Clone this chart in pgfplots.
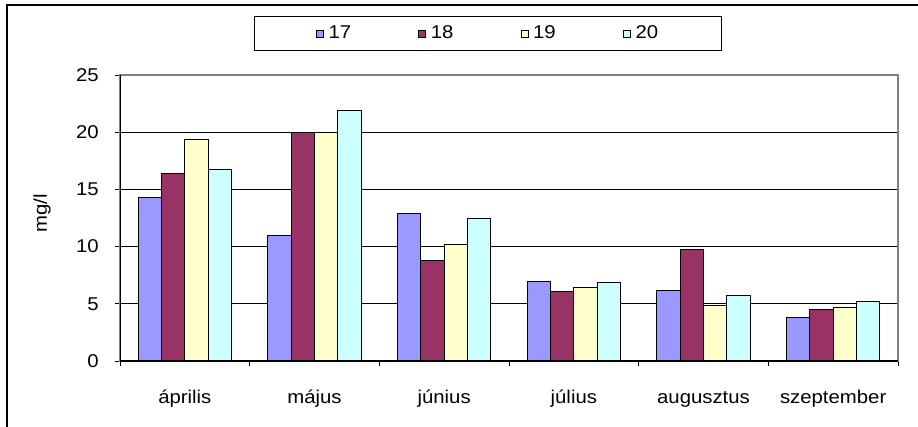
\documentclass[border=0pt]{standalone}
\usepackage{fontspec}
\setmainfont{Liberation Sans}[FakeStretch=1.1]
\usepackage{pgfplots}
\pgfplotsset{compat=1.18}
\definecolor{c17}{HTML}{9999FF}
\definecolor{c18}{HTML}{993366}
\definecolor{c19}{HTML}{FFFFCC}
\definecolor{c20}{HTML}{CCFFFF}
\begin{document}
\fontsize{18.5pt}{22pt}\selectfont
\begin{tikzpicture}
\path[use as bounding box] (0,0) rectangle (918pt,426pt);
\draw[line width=1.5pt] (7pt,-5pt) -- (7pt,421pt) -- (925pt,421pt);
\begin{axis}[
 at={(120pt,65pt)}, anchor=south west,
 scale only axis, width=778pt, height=286pt,
 ybar=0pt, bar width=23.3pt,
 xmin=-0.5, xmax=5.5, ymin=0, ymax=25,
 xtick={0,...,5}, xticklabels={április,május,június,július,augusztus,szeptember},
 major x tick style={draw=none},
 minor xtick={-0.5,0.5,...,5.5},
 ytick={0,5,...,25},
 xtick pos=bottom, ytick pos=left,
 tick align=outside, major tick length=5pt, minor tick length=5pt,
 ymajorgrids, grid style={black, line width=0.9pt},
 axis line style={draw=gray, line width=1.2pt},
 tick style={black, line width=0.9pt},
 /pgf/number format/assume math mode=true,
 yticklabel style={anchor=east, inner sep=0pt, xshift=-16pt},
 xticklabel style={anchor=base, inner sep=0pt, yshift=-37pt},
 ylabel={mg/l},
 ylabel style={at={(axis description cs:-0.1003,0.517)}, anchor=center},
 legend style={at={(0.473,1.145)}, anchor=center, legend columns=4,
   draw=black, line width=1pt, inner xsep=61pt, inner ysep=7pt,
   /tikz/every even column/.append style={column sep=65pt}},
 legend image code/.code={\draw[#1,line width=0.6pt] (0pt,-3.5pt) rectangle (7pt,3.5pt);},
 every axis plot/.append style={draw=black, line width=1pt},
]
\addplot[fill=c17] coordinates {(0,14.27) (1,10.96) (2,12.85) (3,6.98) (4,6.16) (5,3.84)};
\addplot[fill=c18] coordinates {(0,16.42) (1,20.0) (2,8.75) (3,6.05) (4,9.71) (5,4.53)};
\addplot[fill=c19] coordinates {(0,19.33) (1,20.0) (2,10.15) (3,6.42) (4,4.83) (5,4.65)};
\addplot[fill=c20] coordinates {(0,16.72) (1,21.92) (2,12.47) (3,6.83) (4,5.76) (5,5.23)};
\legend{\,17,\,18,\,19,\,20}
\draw[black, line width=1.2pt] (rel axis cs:0,1) -- (rel axis cs:0,0) -- (rel axis cs:1,0);
\end{axis}
\end{tikzpicture}
\end{document}
